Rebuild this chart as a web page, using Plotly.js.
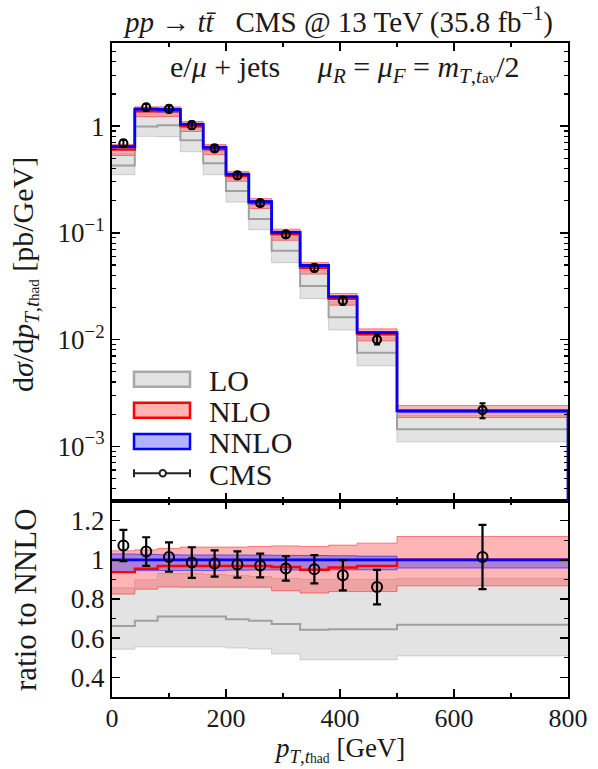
<!DOCTYPE html>
<html><head><meta charset="utf-8">
<script src="https://cdn.plot.ly/plotly-3.0.1.min.js"></script>
<style>body{margin:0;background:#fff}#plot{width:598px;height:769px}</style>
</head><body><div id="plot"></div>
<script>
// ---- data ----
const binEdges = [0, 40, 80, 120, 160, 200, 240, 280, 330, 380, 430, 500, 800];
const binCenters = [20, 60, 100, 140, 180, 220, 260, 305, 355, 405, 465, 650];

// absolute distributions [pb/GeV]
const nnloVal = [0.643, 1.44, 1.43, 1.035, 0.63, 0.353, 0.196, 0.101, 0.0494, 0.0251, 0.0116, 0.00215];
const nnloLow = [0.608, 1.36, 1.35, 0.978, 0.595, 0.334, 0.185, 0.0955, 0.0467, 0.0237, 0.0110, 0.00206];
const nnloHigh = [0.659, 1.476, 1.466, 1.061, 0.646, 0.362, 0.201, 0.1035, 0.0506, 0.0257, 0.0119, 0.00216];
const nloVal = [0.602, 1.374, 1.384, 1.002, 0.610, 0.342, 0.190, 0.0973, 0.0469, 0.0241, 0.01124, 0.00215];
const nloLow = [0.530, 1.224, 1.231, 0.890, 0.542, 0.304, 0.169, 0.0850, 0.0410, 0.0210, 0.00972, 0.00186];
const nloHigh = [0.673, 1.513, 1.513, 1.102, 0.671, 0.376, 0.209, 0.1082, 0.0528, 0.0270, 0.01259, 0.00241];
const loVal = [0.426, 0.992, 1.017, 0.736, 0.448, 0.246, 0.135, 0.068, 0.0318, 0.0162, 0.0075, 0.00144];
const loLow = [0.350, 0.801, 0.795, 0.575, 0.350, 0.194, 0.107, 0.0525, 0.0242, 0.0123, 0.00568, 0.0011];
const loHigh = [0.551, 1.293, 1.33, 0.963, 0.583, 0.325, 0.179, 0.0914, 0.0445, 0.0226, 0.0104, 0.00195];
const cmsVal = [0.69, 1.50, 1.45, 1.02, 0.618, 0.345, 0.190, 0.0966, 0.047, 0.0231, 0.0100, 0.00218];
const cmsErr = [0.0514, 0.105, 0.107, 0.0807, 0.0422, 0.0237, 0.0119, 0.00627, 0.00355, 0.00193, 0.00102, 0.00035];

// ratios to NNLO
const nnloRatio = [1, 1, 1, 1, 1, 1, 1, 1, 1, 1, 1, 1];
const nnloRatioLow = [0.94, 0.945, 0.945, 0.945, 0.945, 0.947, 0.948, 0.948, 0.948, 0.949, 0.949, 0.958];
const nnloRatioHigh = [1.03, 1.028, 1.026, 1.025, 1.025, 1.025, 1.024, 1.023, 1.022, 1.021, 1.019, 1.0];
const nloRatio = [0.937, 0.954, 0.968, 0.968, 0.968, 0.968, 0.968, 0.963, 0.949, 0.961, 0.969, 1.0];
const nloRatioLow = [0.825, 0.85, 0.861, 0.86, 0.86, 0.86, 0.86, 0.842, 0.83, 0.838, 0.838, 0.867];
const nloRatioHigh = [1.046, 1.051, 1.058, 1.065, 1.065, 1.065, 1.068, 1.071, 1.068, 1.075, 1.085, 1.119];
const loRatio = [0.662, 0.689, 0.711, 0.711, 0.711, 0.697, 0.689, 0.673, 0.643, 0.646, 0.646, 0.668];
const loRatioLow = [0.544, 0.556, 0.556, 0.556, 0.556, 0.55, 0.545, 0.52, 0.49, 0.49, 0.49, 0.51];
const loRatioHigh = [0.857, 0.898, 0.93, 0.93, 0.925, 0.92, 0.915, 0.905, 0.9, 0.9, 0.9, 0.905];
const cmsRatio = [1.073, 1.042, 1.014, 0.986, 0.981, 0.976, 0.971, 0.956, 0.952, 0.921, 0.861, 1.014];
const cmsRatioErr = [0.08, 0.073, 0.075, 0.078, 0.067, 0.067, 0.061, 0.062, 0.072, 0.077, 0.088, 0.164];

const xTicks = [0, 200, 400, 600, 800];
const xMinor = [100, 300, 500, 700];
const yTopTicks = [0.001, 0.01, 0.1, 1];
const yTopTickText = ['10<sup>−3</sup>', '10<sup>−2</sup>', '10<sup>−1</sup>', '1'];
const yRatioTicks = [0.4, 0.6, 0.8, 1, 1.2];
const yRatioTickText = ['0.4', '0.6', '0.8', '1', '1.2'];
const yRatioMinor = [0.3, 0.5, 0.7, 0.9, 1.1, 1.3];
const legendLabels = ['LO', 'NLO', 'NNLO', 'CMS'];

// ---- styles ----
const FONT = 'Liberation Serif, DejaVu Serif, serif';
const TXT = '#1a1a1a';
const sty = {
  lo: {line: '#a0a0a0', fill: 'rgba(200,200,200,0.5)', edge: 'rgba(160,160,160,0.45)', w: 2},
  nlo: {line: '#ff0000', fill: 'rgba(255,60,60,0.38)', edge: 'rgba(255,0,0,0.45)', w: 2.4},
  nnlo: {line: '#0000ff', fill: 'rgba(50,50,255,0.40)', edge: 'rgba(0,0,255,0.5)', w: 2.8}
};
const yTopRange = [Math.log10(3.07e-4), Math.log10(6.0)];

function stepY(v) { return v.concat([v[v.length - 1]]); }

const bandTraces = [], lineTraces = [], dataTraces = [];
function addSet(key, low, high, val, xa, ya, dropRight) {
  const s = sty[key];
  bandTraces.push({x: binEdges, y: stepY(low), xaxis: xa, yaxis: ya, mode: 'lines',
    line: {shape: 'hv', color: s.edge, width: 1}, hoverinfo: 'skip', showlegend: false});
  bandTraces.push({x: binEdges, y: stepY(high), xaxis: xa, yaxis: ya, mode: 'lines', fill: 'tonexty',
    fillcolor: s.fill, line: {shape: 'hv', color: s.edge, width: 1}, hoverinfo: 'skip', showlegend: false});
  let xs = binEdges.slice(), ys = stepY(val);
  if (dropRight) { xs = xs.concat([binEdges[binEdges.length - 1]]); ys = ys.concat([Math.pow(10, yTopRange[0] - 1)]); }
  lineTraces.push({x: xs, y: ys, xaxis: xa, yaxis: ya, mode: 'lines',
    line: {shape: 'hv', color: s.line, width: s.w}, hoverinfo: 'skip', showlegend: false});
}
// top panel
addSet('lo', loLow, loHigh, loVal, 'x2', 'y', false);
addSet('nlo', nloLow, nloHigh, nloVal, 'x2', 'y', false);
addSet('nnlo', nnloLow, nnloHigh, nnloVal, 'x2', 'y', true);
dataTraces.push({x: binCenters, y: cmsVal, xaxis: 'x2', yaxis: 'y', mode: 'markers', showlegend: false,
  marker: {symbol: 'circle-open', size: 8, color: '#000', line: {width: 2.2, color: '#000'}},
  error_y: {type: 'data', array: cmsErr, color: '#000', thickness: 2, width: 3}});
// ratio panel
addSet('lo', loRatioLow, loRatioHigh, loRatio, 'x', 'y2', false);
addSet('nlo', nloRatioLow, nloRatioHigh, nloRatio, 'x', 'y2', false);
addSet('nnlo', nnloRatioLow, nnloRatioHigh, nnloRatio, 'x', 'y2', false);
dataTraces.push({x: binCenters, y: cmsRatio, xaxis: 'x', yaxis: 'y2', mode: 'markers', showlegend: false,
  marker: {symbol: 'circle-open', size: 10, color: '#000', line: {width: 2, color: '#000'}},
  error_y: {type: 'data', array: cmsRatioErr, color: '#000', thickness: 2.2, width: 4}});
const traces = bandTraces.concat(lineTraces, dataTraces);

const H = 769, mt = 43, mb = 72, ml = 112, mr = 30;
const ph = H - mt - mb, pw = 598 - ml - mr;
const split = 196 / ph;
function px(x) { return (x - ml) / pw; }
function py(y) { return (H - mb - y) / ph; }

const axisCommon = {showline: true, linecolor: '#000', linewidth: 2, mirror: 'allticks', ticks: 'inside',
  ticklen: 8, tickwidth: 1.5, tickcolor: '#000', showgrid: false, zeroline: false,
  tickfont: {family: FONT, size: 27, color: TXT}};

const shapes = [], annotations = [];
// legend
const legBoxes = [
  {y0: 371.7, y1: 386.7, border: '#a8a8a8', fill: '#e3e3e3'},
  {y0: 402.7, y1: 417.7, border: '#ff0000', fill: '#ffb3b3'},
  {y0: 434, y1: 449, border: '#0000ff', fill: '#b3b3ff'}
];
const LEGSIZE = 30;
legBoxes.forEach((b, i) => {
  shapes.push({type: 'rect', xref: 'paper', yref: 'paper', x0: px(134), x1: px(190), y0: py(b.y0), y1: py(b.y1),
    line: {color: b.border, width: 2.5}, fillcolor: b.fill});
  annotations.push({xref: 'paper', yref: 'paper', x: px(207), y: py((b.y0 + b.y1) / 2 + 1), xanchor: 'left', yanchor: 'middle',
    text: legendLabels[i], showarrow: false, font: {family: FONT, size: LEGSIZE, color: TXT}});
});
const cy = 473.3;
shapes.push({type: 'line', xref: 'paper', yref: 'paper', x0: px(134), x1: px(190), y0: py(cy), y1: py(cy), line: {color: '#222', width: 2}});
shapes.push({type: 'line', xref: 'paper', yref: 'paper', x0: px(134), x1: px(134), y0: py(cy - 4), y1: py(cy + 4), line: {color: '#222', width: 2}});
shapes.push({type: 'line', xref: 'paper', yref: 'paper', x0: px(190), x1: px(190), y0: py(cy - 4), y1: py(cy + 4), line: {color: '#222', width: 2}});
shapes.push({type: 'circle', xref: 'paper', yref: 'paper', x0: px(159.5), x1: px(166), y0: py(cy - 3.2), y1: py(cy + 3.2), line: {color: '#222', width: 2}, fillcolor: '#fff'});
annotations.push({xref: 'paper', yref: 'paper', x: px(207), y: py(cy + 1), xanchor: 'left', yanchor: 'middle',
  text: legendLabels[3], showarrow: false, font: {family: FONT, size: LEGSIZE, color: TXT}});

// titles
const ptSym = '<i>p</i><sub><i>T</i>,<i>t</i><span style="font-size:0.72em">had</span></sub>';
annotations.push({xref: 'paper', yref: 'paper', x: px(338), y: py(21), xanchor: 'center', yanchor: 'middle', showarrow: false,
  text: '<i>pp</i> → <i>tt̄</i>   CMS @ 13 TeV (35.8 fb<sup>−1</sup>)', font: {family: FONT, size: 29, color: TXT}});
annotations.push({xref: 'paper', yref: 'paper', x: px(345), y: py(69), xanchor: 'center', yanchor: 'middle', showarrow: false,
  text: 'e/<i>μ</i> + jets     <i>μ<sub>R</sub></i> = <i>μ<sub>F</sub></i> = <i>m</i><sub><i>T</i>,<i>t</i><span style="font-size:0.72em">av</span></sub>/2',
  font: {family: FONT, size: 30, color: TXT}});
annotations.push({xref: 'paper', yref: 'paper', x: px(25), y: py(275), xanchor: 'center', yanchor: 'middle', showarrow: false, textangle: -90,
  text: 'd<i>σ</i>/d' + ptSym + ' [pb/GeV]', font: {family: FONT, size: 30, color: TXT}});
annotations.push({xref: 'paper', yref: 'paper', x: px(25), y: py(600), xanchor: 'center', yanchor: 'middle', showarrow: false, textangle: -90,
  text: 'ratio to NNLO', font: {family: FONT, size: 31, color: TXT}});
annotations.push({xref: 'paper', yref: 'paper', x: px(339), y: py(768), xanchor: 'center', yanchor: 'bottom', showarrow: false,
  borderpad: 0, text: ptSym + ' [GeV]', font: {family: FONT, size: 27, color: TXT}});

const yMinor = [];
[-4, -3, -2, -1, 0].forEach(d => { for (let k = 2; k <= 9; k++) yMinor.push(k * Math.pow(10, d)); });

const layout = {
  width: 598, height: 769, margin: {l: ml, r: mr, t: mt, b: mb}, paper_bgcolor: '#fff', plot_bgcolor: '#fff',
  showlegend: false,
  xaxis: Object.assign({}, axisCommon, {anchor: 'y2', range: [0, 800], tickvals: xTicks, ticktext: xTicks.map(String),
    tickfont: {family: FONT, size: 26, color: TXT}, ticklabelstandoff: -3,
    minor: {tickvals: xMinor, ticks: 'inside', ticklen: 4, tickcolor: '#000', tickwidth: 1.2}}),
  xaxis2: Object.assign({}, axisCommon, {anchor: 'y', matches: 'x', range: [0, 800], tickvals: xTicks, showticklabels: false,
    minor: {tickvals: xMinor, ticks: 'inside', ticklen: 4, tickcolor: '#000', tickwidth: 1.2}}),
  yaxis: Object.assign({}, axisCommon, {type: 'log', domain: [split, 1], range: yTopRange, tickvals: yTopTicks, ticktext: yTopTickText,
    anchor: 'x2', minor: {tickvals: yMinor, ticks: 'inside', ticklen: 4, tickcolor: '#000', tickwidth: 1.2}}),
  yaxis2: Object.assign({}, axisCommon, {domain: [0, split], range: [0.3, 1.3], tickvals: yRatioTicks, ticktext: yRatioTickText,
    anchor: 'x', minor: {tickvals: yRatioMinor, ticks: 'inside', ticklen: 4, tickcolor: '#000', tickwidth: 1.2}}),
  shapes: shapes, annotations: annotations
};
Plotly.newPlot('plot', traces, layout, {displayModeBar: false, staticPlot: true});
</script></body></html>
